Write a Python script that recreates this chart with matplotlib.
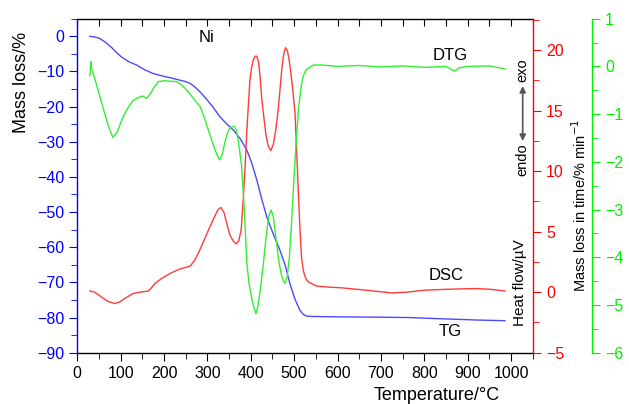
import matplotlib
matplotlib.use("Agg")
import matplotlib.pyplot as plt
from matplotlib.ticker import MultipleLocator

plt.rcParams['font.family'] = ['Liberation Sans', 'DejaVu Sans']

# TG (mass loss, %)
tg_T = [29, 40, 50, 64, 80, 92, 102, 112, 120, 137, 155, 175, 200, 221, 237, 250, 260, 272, 283, 296, 310, 329, 345,
        360, 375, 391, 402, 414, 425, 437, 452, 467, 479, 490, 502, 513, 521, 529, 545, 600, 700, 763, 850, 920, 986]
tg_v = [0, -0.2, -0.5, -1.6, -3.3, -4.8, -5.9, -6.7, -7.3, -8.2, -9.5, -10.6, -11.4, -12.0, -12.5, -12.9, -13.4, -14.5, -15.8, -17.6, -19.7, -22.9, -25.0,
        -26.7, -29.0, -32.4, -36.0, -40.9, -46.2, -51.4, -56.3, -60.8, -65.0, -70.3, -74.8, -77.9, -79.1, -79.6, -79.7, -79.8, -79.9, -80.0, -80.4, -80.7, -80.9]

# DSC (heat flow, uV)
dsc_T = [29, 40, 56, 70, 87, 98, 110, 129, 145, 164, 172, 179, 195, 214, 235, 260, 270, 280, 290, 302, 316,
         324, 331, 338, 346, 352, 360, 366, 372, 378, 383, 387, 391, 395, 398, 402, 406, 410, 414, 418, 421, 425, 430, 435, 440,
         446, 452, 458, 463, 468, 472, 476, 480, 484, 488, 492, 496, 502, 506, 510, 514, 517, 521, 525, 529, 535, 552, 580, 610, 670,
         725, 760, 802, 860, 917, 950, 986]
dsc_v = [0.1, 0.0, -0.4, -0.75, -0.94, -0.8, -0.5, -0.11, 0.0, 0.1, 0.4, 0.72, 1.15, 1.55, 1.9, 2.15, 2.6, 3.3, 4.1, 5.1, 6.2,
         6.8, 7.0, 6.6, 5.5, 4.7, 4.2, 4.0, 4.2, 5.2, 7.9, 10.5, 13.4, 15.8, 17.5, 18.6, 19.2, 19.5, 19.5, 19.0, 18.0, 16.1, 14.5, 13.0, 12.1,
         11.7, 12.2, 13.5, 15.0, 17.0, 18.6, 19.7, 20.2, 20.0, 19.3, 18.2, 17.0, 14.8, 11.5, 7.9, 4.8, 2.9, 1.8, 1.3, 1.0, 0.8, 0.5, 0.42, 0.36, 0.15,
         -0.06, 0.0, 0.17, 0.25, 0.3, 0.25, 0.1]

# DTG (mass loss in time, %/min)
dtg_T = [29, 31, 33, 40, 52, 62, 72, 82, 92, 100, 106, 118, 128, 137, 150, 160, 168, 176, 187, 200, 215, 229, 240, 256, 270, 283,
         292, 302, 315, 322, 328, 334, 340, 346, 352, 358, 362, 366, 370, 374, 379, 385, 391, 396, 402, 407, 412, 417, 423, 429, 435, 441, 447, 452,
         456, 460, 465, 470, 475, 479, 484, 489, 493, 498, 504, 510, 516, 521, 527, 533, 537, 545, 563, 600, 650, 700, 750, 800, 850, 870, 880, 900, 950, 986]
dtg_v = [-0.2, 0.1, -0.05, -0.25, -0.63, -0.95, -1.26, -1.49, -1.38, -1.18, -1.05, -0.85, -0.72, -0.67, -0.62, -0.67, -0.58, -0.45, -0.32, -0.30, -0.31, -0.32, -0.38, -0.53, -0.70, -0.84,
         -1.05, -1.33, -1.68, -1.85, -1.96, -1.85, -1.60, -1.40, -1.30, -1.26, -1.26, -1.32, -1.48, -1.75, -2.1, -3.0, -4.13, -4.55, -4.85, -5.05, -5.18, -5.0, -4.6, -4.13, -3.6, -3.15, -3.01, -3.15,
         -3.45, -3.75, -4.1, -4.35, -4.5, -4.55, -4.4, -4.0, -3.43, -2.6, -1.68, -0.9, -0.42, -0.2, -0.08, -0.03, -0.01, 0.03, 0.03, 0.0, 0.02, -0.01, 0.01, -0.02, 0.0, -0.1, -0.03, 0.0, 0.01, -0.05]

BLUE = '#0000ff'
RED = '#ff0000'
GREEN = '#00ee00'

fig = plt.figure(figsize=(6.29, 4.04), dpi=100)
ax = fig.add_axes([77.3/629, 1-352.7/404, (532.7-77.3)/629, (352.7-18.7)/404])
ax2 = ax.twinx()
ax3 = ax.twinx()

ax.plot(tg_T, tg_v, color='#4a4aff', lw=1.0, zorder=3)
ax2.plot(dsc_T, dsc_v, color='#ff3a3a', lw=1.0)
ax3.plot(dtg_T, dtg_v, color='#33ee33', lw=1.0)

ax.set_xlim(0, 1050)
ax.set_ylim(-90, 5)
ax2.set_ylim(-5, 22.6)
ax3.set_ylim(-6, 1)

ax.xaxis.set_major_locator(MultipleLocator(100))
ax.xaxis.set_minor_locator(MultipleLocator(50))
ax.yaxis.set_major_locator(MultipleLocator(10))
ax.yaxis.set_minor_locator(MultipleLocator(5))
ax2.yaxis.set_major_locator(MultipleLocator(5))
ax2.yaxis.set_minor_locator(MultipleLocator(2.5))
ax3.yaxis.set_major_locator(MultipleLocator(1))
ax3.yaxis.set_minor_locator(MultipleLocator(0.5))

fs = 11.5
ax.tick_params(axis='x', which='both', direction='out', top=False, labelsize=fs, colors='black')
ax.tick_params(axis='x', which='major', length=6)
ax.tick_params(axis='x', which='minor', length=4)
ax.tick_params(axis='y', which='both', direction='out', colors=BLUE, labelsize=fs)
ax.tick_params(axis='y', which='major', length=6)
ax.tick_params(axis='y', which='minor', length=4)
ax2.tick_params(axis='y', which='both', direction='out', colors=RED, labelsize=fs)
ax2.tick_params(axis='y', which='major', length=6)
ax2.tick_params(axis='y', which='minor', length=4)
ax3.tick_params(axis='y', which='both', direction='out', colors=GREEN, labelsize=fs)
ax3.tick_params(axis='y', which='major', length=6)
ax3.tick_params(axis='y', which='minor', length=4)

# top axis ticks (inward)
secx = ax.secondary_xaxis('top')
secx.xaxis.set_major_locator(MultipleLocator(50))
secx.tick_params(direction='in', length=5, labeltop=False)
secx.spines['top'].set_visible(False)

ax.spines['left'].set_color(BLUE)
ax.spines['right'].set_visible(False)
ax2.spines['left'].set_visible(False)
ax2.spines['top'].set_visible(False)
ax2.spines['bottom'].set_visible(False)
ax2.spines['right'].set_color(RED)
ax3.spines['left'].set_visible(False)
ax3.spines['top'].set_visible(False)
ax3.spines['bottom'].set_visible(False)
ax3.spines['right'].set_color(GREEN)
ax3.spines['right'].set_position(('axes', (591.7-77.3)/(532.7-77.3)))

for a in (ax, ax2, ax3):
    for s in a.spines.values():
        s.set_linewidth(1.0)

# labels
fig.text(22/629, 1-82/404, 'Mass loss/%', rotation=90, ha='center', va='center', fontsize=13)
fig.text(436.7/629, 1-395/404, 'Temperature/°C', ha='center', va='center', fontsize=13)
fig.text(520/629, 1-283/404, 'Heat flow/µV', rotation=90, ha='center', va='center', fontsize=11)
fig.text(580/629, 1-205/404, 'Mass loss in time/% min$^{-1}$', rotation=90, ha='center', va='center', fontsize=10.5)

fig.text(522/629, 1-70/404, 'exo', rotation=90, ha='center', va='center', fontsize=10.5)
fig.text(522/629, 1-160/404, 'endo', rotation=90, ha='center', va='center', fontsize=10.5)
ax.annotate('', xy=(522.7/629, 1-86/404), xytext=(522.7/629, 1-141/404), xycoords='figure fraction',
            textcoords='figure fraction',
            arrowprops=dict(arrowstyle='<|-|>', color='#555555', lw=1.2, mutation_scale=9,
                            shrinkA=0, shrinkB=0))

fig.text(206/629, 1-37.3/404, 'Ni', ha='center', va='center', fontsize=12)
fig.text(450/629, 1-55.7/404, 'DTG', ha='center', va='center', fontsize=12)
fig.text(445.7/629, 1-276/404, 'DSC', ha='center', va='center', fontsize=12)
fig.text(450/629, 1-331.7/404, 'TG', ha='center', va='center', fontsize=12)

fig.savefig('out.png', dpi=100)
